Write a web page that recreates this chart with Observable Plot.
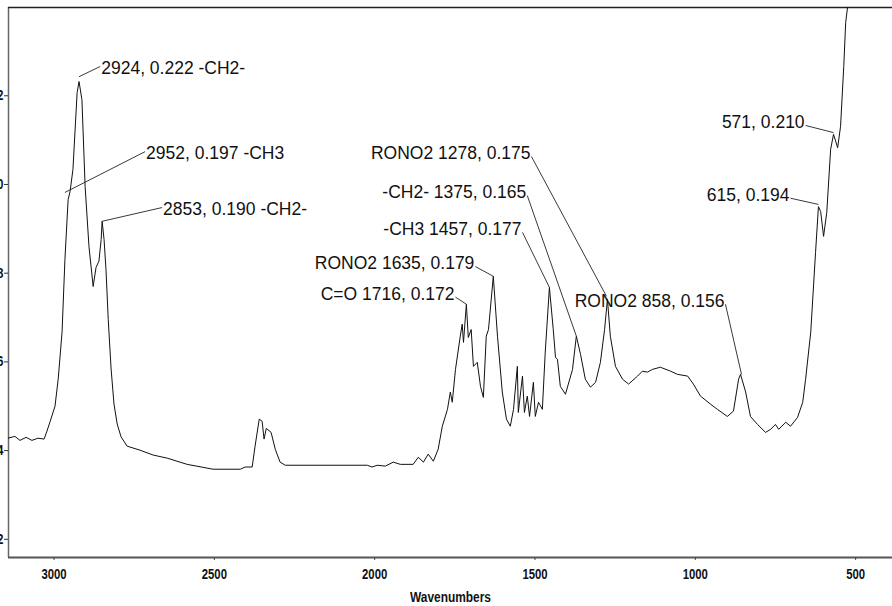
<!DOCTYPE html>
<html>
<head>
<meta charset="utf-8">
<script src="https://cdn.jsdelivr.net/npm/d3@7"></script>
<script src="https://cdn.jsdelivr.net/npm/@observablehq/plot@0.6"></script>
<style>
html, body { margin: 0; padding: 0; background: #fff; overflow: hidden; }
#wrap { width: 892px; height: 606px; overflow: hidden; position: relative; }
#chart { position: absolute; left: -58px; top: 0; width: 950px; }
#chart svg { max-width: none; }
</style>
</head>
<body>
<div id="wrap"><div id="chart"></div></div>
<script>
// Spectrum (wavenumber in cm-1, absorbance)
const wavenumber = [
  3144, 3122, 3106, 3087, 3069, 3050, 3031, 3022, 3012, 2997, 2987, 2975, 2966, 2956, 2950, 2941,
  2928, 2922, 2913, 2903, 2891, 2878, 2869, 2860, 2853, 2850, 2844, 2838, 2831, 2822, 2813, 2803,
  2791, 2772, 2732, 2691, 2647, 2585, 2504, 2419, 2404, 2382, 2373, 2360, 2351, 2345, 2338, 2323,
  2310, 2295, 2279, 2023, 2008, 1992, 1967, 1942, 1920, 1880, 1864, 1848, 1833, 1817, 1802, 1789,
  1773, 1764, 1758, 1748, 1733, 1727, 1723, 1714, 1708, 1699, 1692, 1680, 1670, 1661, 1652, 1645,
  1630, 1617, 1602, 1589, 1577, 1567, 1555, 1552, 1539, 1533, 1524, 1517, 1505, 1499, 1489, 1477,
  1468, 1455, 1443, 1436, 1430, 1421, 1405, 1383, 1371, 1358, 1343, 1327, 1311, 1296, 1283, 1274,
  1265, 1249, 1227, 1208, 1180, 1165, 1149, 1134, 1109, 1077, 1056, 1024, 1006, 984, 953, 931,
  900, 881, 865, 859, 843, 828, 806, 781, 765, 750, 740, 718, 703, 681, 665, 656,
  640, 625, 616, 609, 600, 590, 578, 569, 556, 547, 537, 531, 525, 519
];
const absorbance = [
  0.1428, 0.1432, 0.1423, 0.1430, 0.1423, 0.1428, 0.1426, 0.1444, 0.1466, 0.1500, 0.1561, 0.1667, 0.1831, 0.1966, 0.1984, 0.2034,
  0.2207, 0.2232, 0.2191, 0.1995, 0.1860, 0.1770, 0.1813, 0.1827, 0.1876, 0.1917, 0.1876, 0.1809, 0.1696, 0.1584, 0.1505, 0.1460,
  0.1431, 0.1410, 0.1401, 0.1390, 0.1383, 0.1369, 0.1358, 0.1358, 0.1363, 0.1363, 0.1410, 0.1471, 0.1466, 0.1426, 0.1450, 0.1441,
  0.1403, 0.1374, 0.1367, 0.1367, 0.1363, 0.1367, 0.1365, 0.1374, 0.1369, 0.1369, 0.1385, 0.1374, 0.1392, 0.1376, 0.1403, 0.1455,
  0.1493, 0.1532, 0.1509, 0.1583, 0.1658, 0.1685, 0.1644, 0.1730, 0.1655, 0.1673, 0.1590, 0.1599, 0.1545, 0.1520, 0.1658, 0.1673,
  0.1793, 0.1658, 0.1532, 0.1471, 0.1455, 0.1493, 0.1590, 0.1486, 0.1568, 0.1486, 0.1523, 0.1477, 0.1554, 0.1477, 0.1509, 0.1493,
  0.1622, 0.1768, 0.1673, 0.1610, 0.1606, 0.1545, 0.1527, 0.1583, 0.1658, 0.1617, 0.1561, 0.1543, 0.1554, 0.1599, 0.1673, 0.1741,
  0.1658, 0.1590, 0.1561, 0.1550, 0.1568, 0.1579, 0.1577, 0.1583, 0.1588, 0.1579, 0.1572, 0.1568, 0.1550, 0.1523, 0.1505, 0.1493,
  0.1477, 0.1489, 0.1561, 0.1572, 0.1532, 0.1477, 0.1459, 0.1441, 0.1448, 0.1459, 0.1448, 0.1464, 0.1455, 0.1475, 0.1509, 0.1561,
  0.1667, 0.1847, 0.1950, 0.1939, 0.1883, 0.1937, 0.2079, 0.2113, 0.2083, 0.2131, 0.2266, 0.2365, 0.2401, 0.2450
];

// Peak annotations
const labelText = [
  "2924, 0.222 -CH2-", "2952, 0.197 -CH3", "2853, 0.190 -CH2-",
  "RONO2 1278, 0.175", "-CH2- 1375, 0.165", "-CH3 1457, 0.177",
  "RONO2 1635, 0.179", "C=O 1716, 0.172", "RONO2 858, 0.156",
  "615, 0.194", "571, 0.210"
];
const peakWn  = [2922, 2966, 2850, 1277, 1371, 1455, 1630, 1714, 856, 616, 569];
const peakAbs = [0.2243, 0.1982, 0.1917, 0.1748, 0.1658, 0.1768, 0.1793, 0.1730, 0.1572, 0.1955, 0.2117];
const labelWn  = [2856, 2716, 2663, 1511, 1524, 1539, 1686, 1748, 906, 703, 656];
const labelAbs = [0.2266, 0.2074, 0.1948, 0.2063, 0.1975, 0.1892, 0.1815, 0.1746, 0.1730, 0.1969, 0.2133];
const labelSide = ["start", "start", "start", "end", "end", "end", "end", "end", "end", "end", "end"];

const xTicks = [3000, 2500, 2000, 1500, 1000, 500];
const yTicks = [0.12, 0.14, 0.16, 0.18, 0.20, 0.22];
const xTitle = "Wavenumbers";

const spectrum = wavenumber.map((w, i) => ({wn: w, a: absorbance[i]}));
const notes = labelText.map((t, i) => ({
  text: t, pw: peakWn[i], pa: peakAbs[i], lw: labelWn[i], la: labelAbs[i], side: labelSide[i]
}));

const xDomain = [3142, 385];
const yDomain = [0.1159, 0.2399];
const font = "'Liberation Sans', Arial, Helvetica, sans-serif";

const plot = Plot.plot({
  width: 950,
  height: 606,
  marginLeft: 66,
  marginRight: 0,
  marginTop: 7,
  marginBottom: 49,
  style: {fontFamily: font, background: "#fff", maxWidth: "none", color: "#111"},
  x: {domain: xDomain},
  y: {domain: yDomain},
  marks: [
    Plot.ruleX([xDomain[0]], {stroke: "#666", strokeWidth: 1.5}),
    Plot.ruleY([yDomain[1]], {stroke: "#222", strokeWidth: 1.5}),
    Plot.ruleY([yDomain[0]], {stroke: "#555", strokeWidth: 2.2}),
    Plot.axisX(xTicks, {tickSize: 3, tickPadding: 9, tickFormat: d3.format("d"),
      fontSize: 14, fontWeight: "bold", label: null, stroke: "#444"}),
    Plot.axisY(yTicks, {tickSize: 4, tickPadding: 1, tickFormat: d3.format(".2f"),
      fontSize: 14, fontWeight: "bold", label: null, stroke: "#333"}),
    Plot.line(spectrum, {x: "wn", y: "a", stroke: "#111", strokeWidth: 1, clip: true}),
    Plot.link(notes, {x1: "pw", y1: "pa", x2: "lw", y2: "la", stroke: "#222", strokeWidth: 0.9}),
    Plot.text(notes.filter(d => d.side === "start"), {x: "lw", y: "la", text: "text",
      textAnchor: "start", dx: 1, dy: 2, fontSize: 17.5, fill: "#111"}),
    Plot.text(notes.filter(d => d.side === "end"), {x: "lw", y: "la", text: "text",
      textAnchor: "end", dx: -1, dy: -3, fontSize: 17.5, fill: "#111"}),
    Plot.text([xTitle], {frameAnchor: "bottom", dy: 44, text: d => d,
      fontWeight: "bold", fontSize: 14, fill: "#111"})
  ]
});

document.getElementById("chart").appendChild(plot);

// condensed look of the axis typography
const svg = d3.select(plot);
svg.selectAll('g[aria-label="x-axis tick label"] text')
  .attr("textLength", function() { return this.textContent.length * 6.3; })
  .attr("lengthAdjust", "spacingAndGlyphs");
svg.selectAll('g[aria-label="y-axis tick label"] text')
  .attr("textLength", function() { return this.textContent.length * 5.6; })
  .attr("lengthAdjust", "spacingAndGlyphs");
svg.selectAll("text").filter(function() { return this.textContent === xTitle; })
  .attr("textLength", 81).attr("lengthAdjust", "spacingAndGlyphs");
</script>
</body>
</html>
